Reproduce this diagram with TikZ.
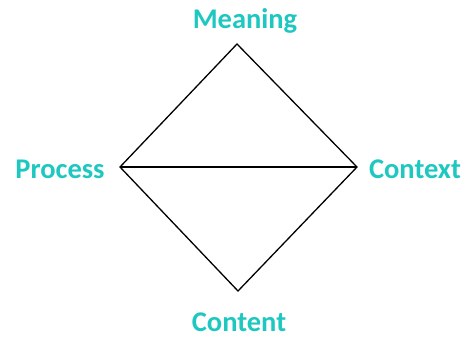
\documentclass[tikz,border=0pt]{standalone}
\usepackage{fontspec}
\setmainfont{Carlito}
\definecolor{teal1}{HTML}{1EC8C0}
\begin{document}
\begin{tikzpicture}[x=1pt,y=-1pt,
  lbl/.style={text=teal1, font=\fontsize{28.5}{31}\selectfont\bfseries, inner sep=0pt},
  edge/.style={draw=black, line width=1.3pt, line join=miter}]
\useasboundingbox (0,0) rectangle (471,338);
\coordinate (top) at (237,44);
\coordinate (left) at (120,167);
\coordinate (right) at (357,167);
\coordinate (bottom) at (238,291);
\draw[edge] (top) -- (right) -- (bottom) -- (left) -- cycle;
\draw[edge] (left) -- (right);
\node[lbl] (meaning) at (245,21) {Meaning};
\node[lbl] (process) at (60,169) {Process};
\node[lbl] (context) at (415,169) {Context};
\node[lbl] (content) at (239,322) {Content};
\end{tikzpicture}
\end{document}
